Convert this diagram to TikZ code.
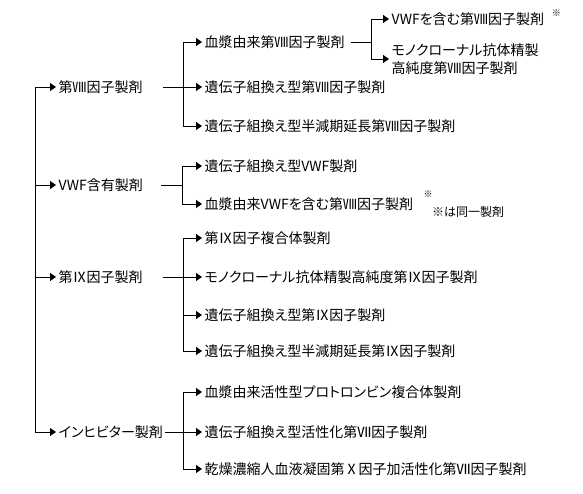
\documentclass[tikz,border=0pt]{standalone}
\usepackage{fontspec}
\setmainfont[RawFeature=+palt]{Noto Sans CJK JP}
\usetikzlibrary{arrows.meta}

\begin{document}
\begin{tikzpicture}[
  x=1pt, y=-1pt,
  font=\fontsize{14}{17.5}\selectfont,
  item/.style={anchor=west, inner xsep=2.5pt, inner ysep=1pt, align=left},
  arr/.style={-{Triangle[length=6pt, width=8pt]}, line width=0.9pt},
  stub/.style={line width=0.9pt},
  note/.style={font=\fontsize{#1}{13}\selectfont, inner sep=0pt},
  note/.default=12,
]
\useasboundingbox (0,0) rectangle (583,494);

% Trunk
\coordinate (t1) at (35,87);
\coordinate (t4) at (35,432);
\draw[stub] (t1) -- (t4);

% Product groups
\node[item] (f8)  at (56,87)  {第Ⅷ因子製剤};
\node[item] (vwf) at (56,185) {VWF含有製剤};
\node[item] (f9)  at (56,277) {第Ⅸ因子製剤};
\node[item] (inh) at (56,432) {インヒビター製剤};
\draw[arr] (t1) -- (f8);
\draw[arr] (35,185) -- (vwf);
\draw[arr] (35,277) -- (f9);
\draw[arr] (t4) -- (inh);

% Factor VIII
\node[item] (f8a) at (202,42)  {血漿由来第Ⅷ因子製剤};
\node[item] (f8b) at (202,87)  {遺伝子組換え型第Ⅷ因子製剤};
\node[item] (f8c) at (202,126) {遺伝子組換え型半減期延長第Ⅷ因子製剤};
\coordinate (s8) at (163,87);
\coordinate (j8) at (183,87);
\draw[stub] (s8) -- (j8);
\draw[arr] (j8) |- (f8a);
\draw[arr] (j8) -- (f8b);
\draw[arr] (j8) |- (f8c);

% Plasma derived factor VIII
\node[item] (f8a1) at (389,19) {VWFを含む第Ⅷ因子製剤};
\node[note=9, anchor=west] (m1) at ([xshift=5pt, yshift=6pt]f8a1.east) {※};
\node[item] (f8a2) at (389,59) {モノクローナル抗体精製\\高純度第Ⅷ因子製剤};
\coordinate (s8a) at (351,42);
\coordinate (j8a) at (371,42);
\draw[stub] (s8a) -- (j8a);
\draw[arr] (j8a) |- (f8a1);
\draw[arr] (j8a) |- (f8a2);

% VWF
\node[item] (vwfa) at (202,166) {遺伝子組換え型VWF製剤};
\node[item] (vwfb) at (202,204) {血漿由来VWFを含む第Ⅷ因子製剤};
\coordinate (sv) at (161,185);
\coordinate (jv) at (182,185);
\draw[stub] (sv) -- (jv);
\draw[arr] (jv) |- (vwfa);
\draw[arr] (jv) |- (vwfb);
\node[note=9] (m2) at (428,194) {※};
\node[note, anchor=west] (memo) at (432,212) {※は同一製剤};

% Factor IX
\node[item] (f9a) at (202,238) {第Ⅸ因子複合体製剤};
\node[item] (f9b) at (202,277) {モノクローナル抗体精製高純度第Ⅸ因子製剤};
\node[item] (f9c) at (202,315) {遺伝子組換え型第Ⅸ因子製剤};
\node[item] (f9d) at (202,351) {遺伝子組換え型半減期延長第Ⅸ因子製剤};
\coordinate (s9) at (163,277);
\coordinate (j9) at (183,277);
\draw[stub] (s9) -- (j9);
\draw[arr] (j9) |- (f9a);
\draw[arr] (j9) -- (f9b);
\draw[arr] (j9) |- (f9c);
\draw[arr] (j9) |- (f9d);

% Inhibitor
\node[item] (inha) at (202,392) {血漿由来活性型プロトロンビン複合体製剤};
\node[item] (inhb) at (202,432) {遺伝子組換え型活性化第Ⅶ因子製剤};
\node[item] (inhc) at (202,469) {乾燥濃縮人血液凝固第Ⅹ因子加活性化第Ⅶ因子製剤};
\coordinate (si) at (165,432);
\coordinate (ji) at (183,432);
\draw[stub] (si) -- (ji);
\draw[arr] (ji) |- (inha);
\draw[arr] (ji) -- (inhb);
\draw[arr] (ji) |- (inhc);
\end{tikzpicture}
\end{document}
